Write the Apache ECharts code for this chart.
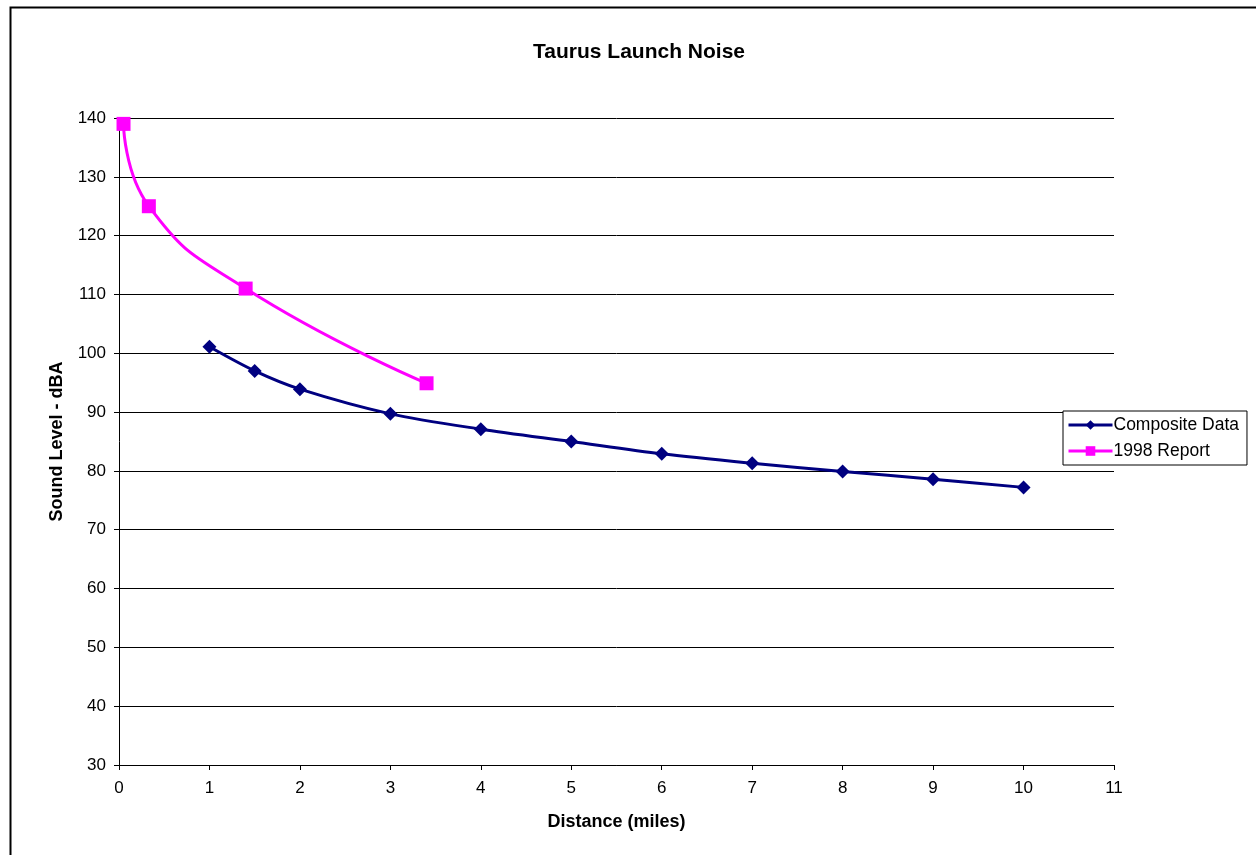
<!DOCTYPE html>
<html><head><meta charset="utf-8">
<script src="https://cdn.jsdelivr.net/npm/echarts@6/dist/echarts.min.js"></script>
<style>html,body{margin:0;padding:0;background:#fff}#c{width:1256px;height:855px}</style>
</head><body><div id="c"></div>
<script>
const compositeX = [1, 1.5, 2, 3, 4, 5, 6, 7, 8, 9, 10];
const compositeY = [101.1, 97.0, 93.9, 89.7, 87.1, 85.0, 82.9, 81.3, 79.9, 78.6, 77.2];
const reportX = [0.05, 0.33, 1.4, 3.4];
const reportY = [139, 125, 111, 94.9];
const xTicks = { min: 0, max: 11, interval: 1 };
const yTicks = { min: 30, max: 140, interval: 10 };

const chart = echarts.init(document.getElementById('c'));
const font = 'Liberation Sans, Arial, sans-serif';
chart.setOption({
  animation: false,
  backgroundColor: '#fff',
  title: { text: 'Taurus Launch Noise', left: 634, top: 37, textAlign: 'center',
    textStyle: { fontFamily: font, fontSize: 21, fontWeight: 'bold', color: '#000' } },
  graphic: [{ type: 'rect', shape: { x: 10.5, y: 7.5, width: 1300, height: 900 },
    style: { fill: 'none', stroke: '#000', lineWidth: 2 } }],
  legend: {
    orient: 'vertical', left: 1063, top: 411, width: 187,
    backgroundColor: '#fff', borderColor: '#000', borderWidth: 1, borderRadius: 0,
    padding: [5, 8, 5, 4], itemGap: 8, itemWidth: 44, itemHeight: 12,
    lineStyle: { width: 3 },
    textStyle: { fontFamily: font, fontSize: 17.5, color: '#000', padding: [0, 0, 0, -4] },
    data: ['Composite Data', '1998 Report']
  },
  grid: { left: 119, right: 142, top: 118, bottom: 90 },
  xAxis: {
    type: 'value', min: xTicks.min, max: xTicks.max, interval: xTicks.interval,
    name: 'Distance (miles)', nameLocation: 'middle', nameGap: 48,
    nameTextStyle: { fontFamily: font, fontSize: 18, fontWeight: 'bold', color: '#000' },
    axisLine: { lineStyle: { color: '#000', width: 1 } },
    axisTick: { show: true, inside: false, length: 5, lineStyle: { color: '#000' } },
    axisLabel: { fontFamily: font, fontSize: 17, color: '#000', margin: 15 },
    splitLine: { show: false }
  },
  yAxis: {
    type: 'value', min: yTicks.min, max: yTicks.max, interval: yTicks.interval,
    name: 'Sound Level - dBA', nameLocation: 'middle', nameGap: 53, nameRotate: 90,
    nameTextStyle: { fontFamily: font, fontSize: 18, fontWeight: 'bold', color: '#000' },
    axisLine: { show: true, lineStyle: { color: '#000', width: 1 } },
    axisTick: { show: true, inside: false, length: 5, lineStyle: { color: '#000' } },
    axisLabel: { fontFamily: font, fontSize: 17, color: '#000', margin: 13 },
    splitLine: { show: true, lineStyle: { color: '#000', width: 1 } }
  },
  series: [
    { name: 'Composite Data', type: 'line', smooth: 0.3,
      data: compositeX.map((x, i) => [x, compositeY[i]]),
      symbol: 'diamond', symbolSize: 14,
      lineStyle: { color: '#000080', width: 3 },
      itemStyle: { color: '#000080' } },
    { name: '1998 Report', type: 'line', smooth: 0.5,
      data: reportX.map((x, i) => [x, reportY[i]]),
      symbol: 'rect', symbolSize: 14,
      lineStyle: { color: '#ff00ff', width: 3 },
      itemStyle: { color: '#ff00ff' } }
  ]
});
</script></body></html>
